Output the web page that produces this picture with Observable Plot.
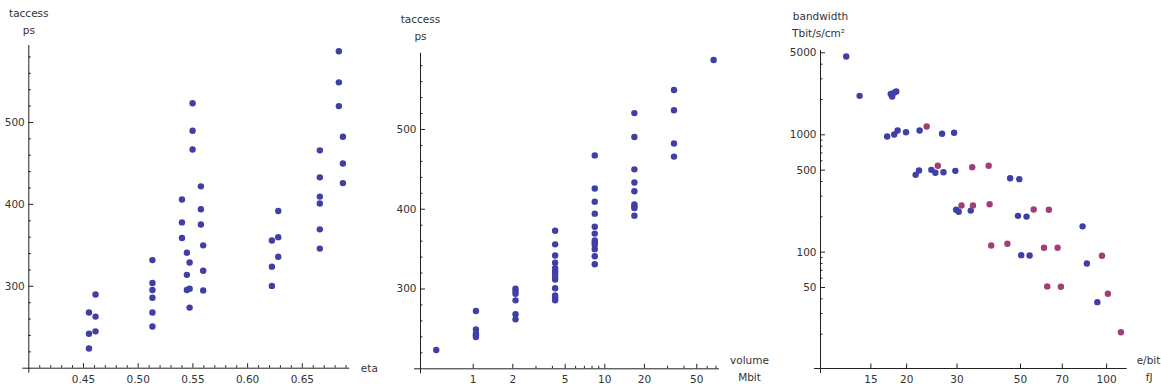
<!DOCTYPE html>
<html><head><meta charset="utf-8">
<script src="https://cdn.jsdelivr.net/npm/d3@7"></script>
<script src="https://cdn.jsdelivr.net/npm/@observablehq/plot@0.6"></script>
<style>
body{margin:0;background:#fff;}
#wrap{position:relative;width:1161px;height:387px;overflow:hidden;background:#fff;}
#wrap svg{position:absolute;top:0;}
</style></head><body><div id="wrap"></div>
<script>
// ---------- Panel 1: taccess vs eta ----------
const eta1 = [0.455,0.455,0.455, 0.461,0.461,0.461,
  0.513,0.513,0.513,0.513,0.513,0.513,
  0.540,0.540,0.540, 0.5445,0.5445,0.5445, 0.547,0.547,0.547,
  0.5497,0.5497,0.5497, 0.5573,0.5573,0.5573, 0.5594,0.5594,0.5594,
  0.6222,0.6222,0.6222, 0.628,0.628,0.628,
  0.666,0.666,0.666,0.666,0.666,0.666,
  0.6834,0.6834,0.6834, 0.6871,0.6871,0.6871];
const tacc1 = [268,242,224, 290,263,245,
  332,304,295.5,286,268,251,
  406,378,359, 341,314,295.5, 329,297,274,
  523.5,490,467, 422,394,375.5, 350,319,295,
  356,324,300.5, 392,360,336,
  466,433,409.5,401,369.5,346,
  587,549,520, 482.5,450,426];
const xTicks1 = [0.45,0.50,0.55,0.60,0.65];
const yTicks1 = [300,400,500];

// ---------- Panel 2: taccess vs volume ----------
const vol2 = [0.524,
  1.049,1.049,1.049,1.049,1.049,
  2.097,2.097,2.097,2.097,2.097,2.097,
  4.194,4.194,4.194,4.194,4.194,4.194,4.194,4.194,4.194,4.194,4.194,4.194,4.194,
  8.389,8.389,8.389,8.389,8.389,8.389,8.389,8.389,8.389,8.389,8.389,8.389,
  16.78,16.78,16.78,16.78,16.78,16.78,16.78,16.78,16.78,
  33.55,33.55,33.55,33.55,
  67.11];
const tacc2 = [223.6,
  272.4,249.4,244.4,241.9,239.8,
  300.5,297.5,294,285.8,268.3,262,
  373,356,342,333,326,322,319,315,312,301,292,289,286,
  467.5,426,409.5,394.5,378,369.5,361,358,355.5,350,341,331,
  520.5,490.5,450,433.5,422.5,406,403.5,401.5,392,
  549.5,524,482.5,466,
  587];
const xTicks2 = [1,2,5,10,20,50];
const xMinor2 = [3,4,6,7,8,9,30,40,60,70];
const yTicks2 = [300,400,500];

// ---------- Panel 3: bandwidth vs e/bit ----------
const ebitBlue = [12.3,13.7,17.6,17.8,18.1,18.4,17.1,18.1,18.6,19.9,22.2,26.6,29.3,
  21.5,22.1,24.4,25.2,26.9,29.6,29.8,30.4,33.5,46.0,49.5,49.0,52.5,50.3,53.8,82.4,85.3,92.8];
const bwBlue = [4645,2148,2230,2120,2290,2340,967,1006,1088,1052,1088,1020,1040,
  456,496,503,475,480,493,230,221,226,427,419,204,201,94.3,93.7,166,80.1,37.5];
const ebitPurple = [23.5,25.7,33.9,38.7,31.1,34.1,39.0,55.6,62.8,39.5,45.0,60.4,67.4,96.3,62.0,69.2,101,112.2];
const bwPurple = [1177,545,530,545,250,250,256,231,230,114,118,109,109,93.2,51.1,50.7,44.2,20.8];
const xTicks3 = [15,20,30,50,70,100];
const yTicks3 = [50,100,500,1000,5000];
const yMinor3 = [20,30,40,60,70,80,90,200,300,400,600,700,800,900,2000,3000,4000];

const BLUE = "#3f3fa6", PURPLE = "#a23d76", AX = "#222", TXT = "#333";
const wrap = document.getElementById("wrap");

function panel(o) {
  const plotW = o.width - o.ml - o.mr, plotH = 387 - o.mt - o.mb;
  const marks = [
    Plot.ruleY([o.yDomain[0]], {insetLeft: -6, stroke: AX}),
    Plot.ruleX([o.xDomain[0]], {insetBottom: -5, stroke: AX}),
    Plot.ruleX(o.xMajor, {insetTop: plotH - 4.5, stroke: AX}),
    Plot.ruleX(o.xMinor, {insetTop: plotH - 2.5, stroke: AX}),
    Plot.ruleY(o.yMajor, {insetRight: plotW - 5, stroke: AX}),
    Plot.ruleY(o.yMinor, {insetRight: plotW - 2.5, stroke: AX}),
    Plot.text(o.xMajor, {x: d => d, text: o.xFmt, frameAnchor: "bottom", lineAnchor: "top", dy: 7, fill: TXT}),
    Plot.text(o.yMajor, {y: d => d, text: o.yFmt, frameAnchor: "left", textAnchor: "end", lineAnchor: "middle", dx: -4, fill: TXT}),
    ...o.labels,
    ...o.dots
  ];
  const svg = Plot.plot({
    width: o.width, height: 387,
    marginLeft: o.ml, marginRight: o.mr, marginTop: o.mt, marginBottom: o.mb,
    x: {type: o.xType, domain: o.xDomain, axis: null},
    y: {type: o.yType, domain: o.yDomain, axis: null},
    style: {fontFamily: "'DejaVu Sans', sans-serif", fontSize: "10.5px", color: TXT, background: "transparent", overflow: "visible"},
    marks
  });
  svg.style.left = o.left + "px";
  wrap.appendChild(svg);
}

const f2 = d3.format(".2f");

panel({
  left: 0, width: 390, ml: 28.3, mr: 40.7, mt: 45, mb: 19.3,
  xType: "linear", xDomain: [0.4, 0.6934], yType: "linear", yDomain: [200, 594],
  xMajor: xTicks1, xMinor: d3.range(0.41, 0.695, 0.01).filter(v => Math.abs(v*20 - Math.round(v*20)) > 1e-6),
  yMajor: yTicks1, yMinor: d3.range(220, 594, 20).filter(v => v % 100 !== 0),
  xFmt: f2, yFmt: d => String(d),
  labels: [
    Plot.text(["taccess"], {frameAnchor: "top-left", textAnchor: "middle", lineAnchor: "middle", dy: -32.3, fill: TXT}),
    Plot.text(["ps"], {frameAnchor: "top-left", textAnchor: "middle", lineAnchor: "middle", dy: -15, fill: TXT}),
    Plot.text(["eta"], {frameAnchor: "bottom-right", textAnchor: "start", lineAnchor: "middle", dx: 11, dy: 0.6, fill: TXT})
  ],
  dots: [Plot.dot(eta1.map((e, i) => ({e, t: tacc1[i]})), {x: "e", y: "t", r: 3.2, fill: BLUE, stroke: "none"})]
});

panel({
  left: 390, width: 390, ml: 30, mr: 61, mt: 52.7, mb: 18.7,
  xType: "log", xDomain: [0.3977, 74.4], yType: "linear", yDomain: [200, 595.6],
  xMajor: xTicks2, xMinor: xMinor2,
  yMajor: yTicks2, yMinor: d3.range(220, 595, 20).filter(v => v % 100 !== 0),
  xFmt: d => String(d), yFmt: d => String(d),
  labels: [
    Plot.text(["taccess"], {frameAnchor: "top-left", textAnchor: "middle", lineAnchor: "middle", dy: -33.7, fill: TXT}),
    Plot.text(["ps"], {frameAnchor: "top-left", textAnchor: "middle", lineAnchor: "middle", dy: -16.7, fill: TXT}),
    Plot.text(["volume"], {frameAnchor: "bottom-right", textAnchor: "middle", lineAnchor: "middle", dx: 30, dy: -8.3, fill: TXT}),
    Plot.text(["Mbit"], {frameAnchor: "bottom-right", textAnchor: "middle", lineAnchor: "middle", dx: 30, dy: 8.4, fill: TXT})
  ],
  dots: [Plot.dot(vol2.map((v, i) => ({v, t: tacc2[i]})), {x: "v", y: "t", r: 3.2, fill: BLUE, stroke: "none"})]
});

panel({
  left: 780, width: 381, ml: 40, mr: 34.3, mt: 50, mb: 19,
  xType: "log", xDomain: [10, 118], yType: "log", yDomain: [10.2, 5230],
  xMajor: xTicks3, xMinor: [],
  yMajor: yTicks3, yMinor: yMinor3,
  xFmt: d => String(d), yFmt: d => String(d),
  labels: [
    Plot.text(["bandwidth"], {frameAnchor: "top-left", textAnchor: "middle", lineAnchor: "middle", dy: -34, fill: TXT}),
    Plot.text(["Tbit/s/cm²"], {frameAnchor: "top-left", textAnchor: "middle", lineAnchor: "middle", dx: -2, dy: -16.7, fill: TXT}),
    Plot.text(["e/bit"], {frameAnchor: "bottom-right", textAnchor: "middle", lineAnchor: "middle", dx: 21.3, dy: -8, fill: TXT}),
    Plot.text(["fJ"], {frameAnchor: "bottom-right", textAnchor: "middle", lineAnchor: "middle", dx: 22, dy: 8.7, fill: TXT})
  ],
  dots: [
    Plot.dot(ebitBlue.map((e, i) => ({e, b: bwBlue[i]})), {x: "e", y: "b", r: 3.2, fill: BLUE, stroke: "none"}),
    Plot.dot(ebitPurple.map((e, i) => ({e, b: bwPurple[i]})), {x: "e", y: "b", r: 3.2, fill: PURPLE, stroke: "none"})
  ]
});
</script>
</body></html>
